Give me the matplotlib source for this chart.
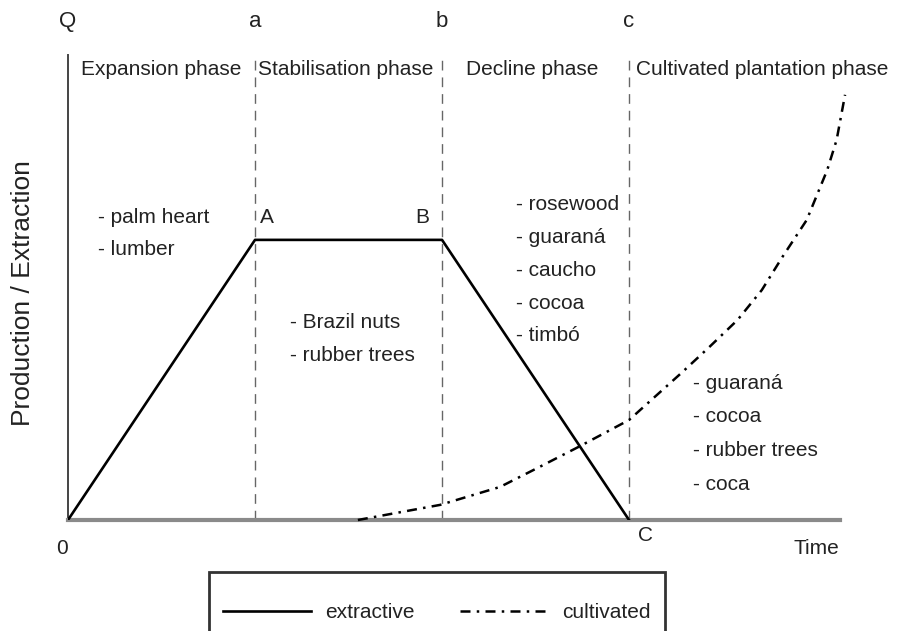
import matplotlib
matplotlib.use('Agg')
import matplotlib.pyplot as plt
from matplotlib.lines import Line2D

plt.rcParams['font.family'] = ['Liberation Sans Narrow', 'Liberation Sans', 'DejaVu Sans']

# extractive cycle: 0 -> A -> B -> C
extr_x = [0, 1, 2, 3]
extr_y = [0, 1, 1, 0]

# cultivated plantation curve
cult_x = [1.55, 1.99, 2.31, 2.52, 2.73, 3.00, 3.28, 3.43, 3.58, 3.71, 3.82, 3.95, 4.06, 4.11, 4.155]
cult_y = [0.0, 0.054, 0.118, 0.189, 0.261, 0.357, 0.525, 0.618, 0.714, 0.821, 0.939, 1.071, 1.25, 1.357, 1.518]

phase_x = [1, 2, 3]
phase_letters = ['a', 'b', 'c']
phase_names = ['Expansion phase', 'Stabilisation phase', 'Decline phase', 'Cultivated plantation phase']
phase_name_x = [0.497, 1.487, 2.48, 3.71]

expansion_items = ['- palm heart', '- lumber']
stable_items = ['- Brazil nuts', '- rubber trees']
decline_items = ['- rosewood', '- guaraná', '- caucho', '- cocoa', '- timbó']
cultivated_items = ['- guaraná', '- cocoa', '- rubber trees', '- coca']

txt = '#222222'
fs = 15

fig = plt.figure(figsize=(8.98, 6.31), dpi=100)
ax = fig.add_axes([68 / 898, 111 / 631, 772 / 898, 465 / 631])
ax.set_xlim(0, 4.128)
ax.set_ylim(0, 1.66)

for x in phase_x:
    ax.plot([x, x], [0, 1.66], color='#666666', lw=1.0, linestyle=(0, (7, 5)), zorder=1)

ax.plot(extr_x, extr_y, color='black', lw=1.9, zorder=3, label='extractive')
ax.plot(cult_x, cult_y, color='black', lw=1.8, linestyle=(0, (4, 2.5, 1, 2.5)), zorder=3,
        label='cultivated', clip_on=False)

for sp in ['top', 'right']:
    ax.spines[sp].set_visible(False)
ax.spines['left'].set_color('#444444')
ax.spines['left'].set_linewidth(1.4)
ax.spines['bottom'].set_color('#8a8a8a')
ax.spines['bottom'].set_linewidth(3)
ax.set_xticks([])
ax.set_yticks([])

# letters above the axes
ax.text(0, 1.78, 'Q', ha='center', va='center', fontsize=16, color=txt, clip_on=False)
for x, l in zip(phase_x, phase_letters):
    ax.text(x, 1.78, l, ha='center', va='center', fontsize=16, color=txt, clip_on=False)

for x, n in zip(phase_name_x, phase_names):
    ax.text(x, 1.607, n, ha='center', va='center', fontsize=fs, color=txt, clip_on=False)

ax.text(1.064, 1.079, 'A', ha='center', va='center', fontsize=fs, color=txt)
ax.text(1.893, 1.079, 'B', ha='center', va='center', fontsize=fs, color=txt)
ax.text(3.086, -0.054, 'C', ha='center', va='center', fontsize=fs, color=txt, clip_on=False)
ax.text(-0.03, -0.1, '0', ha='center', va='center', fontsize=fs, color=txt, clip_on=False)
ax.text(4.0, -0.1, 'Time', ha='center', va='center', fontsize=fs, color=txt, clip_on=False)

def item_list(x, y0, items, step):
    for i, s in enumerate(items):
        ax.text(x, y0 - i * step, s, ha='left', va='center', fontsize=fs, color=txt)

item_list(0.16, 1.079, expansion_items, 0.115)
item_list(1.187, 0.704, stable_items, 0.115)
item_list(2.396, 1.125, decline_items, 0.117)
item_list(3.342, 0.489, cultivated_items, 0.121)

ax.set_ylabel('Production / Extraction', fontsize=19, color=txt)
ax.yaxis.set_label_coords(-0.043, 0.488)

handles = [Line2D([], [], color='black', lw=1.9),
           Line2D([], [], color='black', lw=1.8, linestyle=(0, (4, 2.5, 1, 2.5)))]
# blank title only adds some room above the entries
leg = fig.legend(handles, ['extractive', 'cultivated'], loc='upper center',
                 bbox_to_anchor=(437 / 898, 59 / 631), ncol=2, fontsize=fs,
                 title=' ', title_fontsize=6,
                 frameon=True, fancybox=False, edgecolor='black', handlelength=4.2,
                 handletextpad=0.7, columnspacing=2.2,
                 borderpad=0.65, borderaxespad=0)
leg.get_frame().set_linewidth(2)
for t in leg.get_texts():
    t.set_color(txt)

fig.savefig('out.png', dpi=100)
